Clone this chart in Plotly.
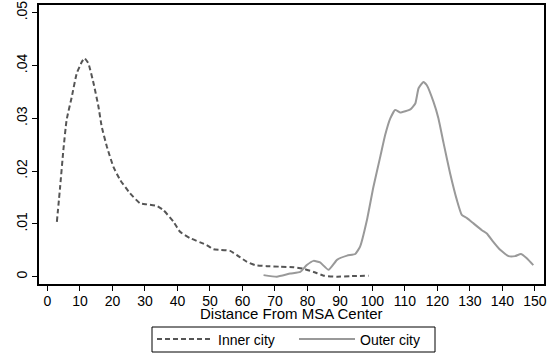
import plotly.graph_objects as go

inner_x = [2.9, 3.9, 4.9, 5.9, 7.5, 9.0, 10.6, 11.4, 12.6, 14.2, 15.7, 16.7, 18.3, 20.3, 22.4,
           25.4, 28.5, 30.6, 33.7, 35.7, 38.8, 40.8, 43.9, 47.0, 49.0, 51.1, 53.1, 56.2, 58.3,
           61.4, 63.9, 67.5, 71.6, 75.7, 78.8, 81.9, 85.0, 89.1, 93.1, 98.8]
inner_y = [0.0104, 0.0170, 0.0240, 0.0297, 0.0341, 0.0385, 0.0407, 0.0414, 0.0404, 0.0366,
           0.0322, 0.0284, 0.0246, 0.0208, 0.0183, 0.0158, 0.0139, 0.0137, 0.0134, 0.0126,
           0.0104, 0.0085, 0.0073, 0.0065, 0.0060, 0.0052, 0.0051, 0.0049, 0.0041, 0.0028,
           0.0022, 0.0020, 0.0019, 0.0018, 0.0015, 0.0009, 0.0002, 0.0000, 0.0001, 0.0002]

outer_x = [66.5, 70.6, 74.7, 77.8, 79.8, 81.9, 83.9, 86.5, 89.1, 92.2, 94.7, 96.2, 98.3, 100.3,
           102.4, 103.9, 105.5, 107.0, 108.5, 111.7, 113.2, 114.2, 115.7, 116.7, 118.8, 120.3,
           121.9, 123.9, 126.0, 127.5, 129.1, 131.1, 133.7, 135.2, 137.2, 139.3, 141.9, 143.9,
           145.7, 147.5, 149.5]
outer_y = [0.0003, 0.0000, 0.0006, 0.0009, 0.0022, 0.0030, 0.0027, 0.0013, 0.0032, 0.0040,
           0.0043, 0.0057, 0.0107, 0.0170, 0.0227, 0.0268, 0.0300, 0.0316, 0.0311, 0.0317,
           0.0328, 0.0357, 0.0369, 0.0363, 0.0331, 0.0300, 0.0253, 0.0196, 0.0145, 0.0117,
           0.0111, 0.0101, 0.0088, 0.0082, 0.0066, 0.0051, 0.0039, 0.0039, 0.0043, 0.0035,
           0.0022]

x_ticks = list(range(0, 151, 10))
y_ticks = [0, 0.01, 0.02, 0.03, 0.04, 0.05]
y_ticklabels = ["0", ".01", ".02", ".03", ".04", ".05"]
x_title = "Distance From MSA Center"

fig = go.Figure()
fig.add_trace(go.Scatter(x=inner_x, y=inner_y, mode="lines", name="Inner city",
                         line=dict(color="#555555", width=2, dash="5px,3px",
                                   shape="spline", smoothing=0.4)))
fig.add_trace(go.Scatter(x=outer_x, y=outer_y, mode="lines", name="Outer city",
                         line=dict(color="#999999", width=2, shape="spline", smoothing=0.4)))

# legend frame (plot area spans x 39..544 px, y 5..284 px)
fig.add_shape(type="rect", xref="paper", yref="paper",
              x0=(152 - 39) / 505, x1=(435 - 39) / 505,
              y0=(284 - 352) / 279, y1=(284 - 327) / 279,
              line=dict(color="black", width=1), fillcolor="rgba(0,0,0,0)")

# x-axis title
fig.add_annotation(text=x_title, xref="paper", yref="paper",
                   x=(291.7 - 39) / 505, y=(284 - 313.5) / 279,
                   xanchor="center", yanchor="middle", showarrow=False,
                   font=dict(size=15, color="black"))

fig.update_layout(
    width=552, height=356,
    margin=dict(l=39, r=8, t=5, b=72, autoexpand=False),
    paper_bgcolor="white", plot_bgcolor="white",
    font=dict(family="Liberation Sans, Arial, sans-serif", color="black", size=12),
    showlegend=True,
    legend=dict(orientation="h", x=(152 - 39) / 505, xanchor="left",
                y=(284 - 339.5) / 279, yanchor="middle",
                borderwidth=0, bgcolor="rgba(0,0,0,0)", font=dict(size=14),
                itemwidth=56, entrywidth=71, entrywidthmode="pixels"),
)
fig.update_xaxes(range=[-2.6, 152.8], tickvals=x_ticks, ticks="outside", ticklen=5,
                 tickwidth=1.2, tickcolor="black", showline=True, linecolor="black",
                 linewidth=1.5, mirror=True, showgrid=False, zeroline=False,
                 tickfont=dict(size=14), automargin=False, ticklabelstandoff=-2)
fig.update_yaxes(range=[-0.00138, 0.05146], tickvals=y_ticks, ticktext=y_ticklabels,
                 ticks="outside", ticklen=5, tickwidth=1.2, tickcolor="black",
                 showline=True, linecolor="black", linewidth=1.5, mirror=True,
                 showgrid=False, zeroline=False, tickangle=-90, tickfont=dict(size=14),
                 automargin=False)

fig.write_html("out.html")
